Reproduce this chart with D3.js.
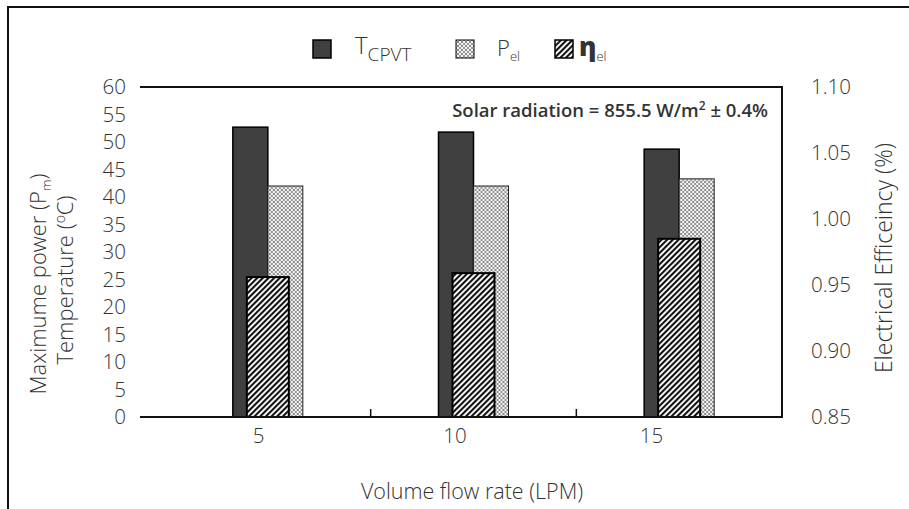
<!DOCTYPE html>
<html>
<head>
<meta charset="utf-8">
<script src="https://cdn.jsdelivr.net/npm/d3@7"></script>
<style>
  body { margin: 0; background: #fff; }
  text { font-family: "Open Sans", "Noto Sans", sans-serif; font-weight: 300; fill: #333; }
</style>
</head>
<body>
<svg id="chart" width="909" height="509"></svg>
<script>
// data
const flowRates = ['5', '10', '15'];
const tempCPVT = [52.7, 51.8, 48.7];
const powerEl = [42.0, 42.0, 43.3];
const effEl = [0.956, 0.959, 0.985];
const leftTicks = [0, 5, 10, 15, 20, 25, 30, 35, 40, 45, 50, 55, 60];
const rightTicks = [0.85, 0.90, 0.95, 1.00, 1.05, 1.10];

const svg = d3.select('#chart');
const plot = {left: 165, right: 782, top: 87, bottom: 417, lineStart: 140};

// patterns
let defs = svg.append('defs');
let dots = defs.append('pattern')
    .attr('id', 'pDots').attr('patternUnits', 'userSpaceOnUse')
    .attr('width', 4).attr('height', 4);
dots.append('rect').attr('width', 4).attr('height', 4).attr('fill', '#f2f2f2');
dots.append('path').attr('d', 'M0,0 L4,4 M4,0 L0,4').attr('stroke', '#999').attr('stroke-width', 1);
dots.append('rect').attr('x', 1.5).attr('y', 1.5).attr('width', 1).attr('height', 1).attr('fill', '#666');

let stripes = defs.append('pattern')
    .attr('id', 'pStripes').attr('patternUnits', 'userSpaceOnUse')
    .attr('width', 4).attr('height', 4)
    .attr('patternTransform', 'rotate(45)');
stripes.append('rect').attr('width', 4).attr('height', 4).attr('fill', '#fff');
stripes.append('rect').attr('width', 2.1).attr('height', 4).attr('fill', '#111');

// outer frame
svg.append('path')
    .attr('d', 'M8,509 V7 H909')
    .attr('fill', 'none').attr('stroke', '#111').attr('stroke-width', 2);

// scales
let x = d3.scaleBand().domain(flowRates).range([plot.left, plot.right]);
let xLabel = d3.scalePoint().domain(flowRates).range([258, 651]);
let y = d3.scaleLinear().domain([0, 60]).range([plot.bottom, plot.top]);
let y2 = d3.scaleLinear().domain([0.85, 1.10]).range([plot.bottom, plot.top]);
let inner = d3.scaleBand().domain(['T', 'P']).range([-35, 35]);
const etaW = 42;

// bars
let groups = svg.append('g').selectAll('g')
    .data(flowRates)
    .join('g')
    .attr('transform', d => `translate(${x(d) + x.bandwidth() / 2},0)`);

groups.append('rect')
    .attr('x', inner('T'))
    .attr('y', (d, i) => y(tempCPVT[i]))
    .attr('width', inner.bandwidth())
    .attr('height', (d, i) => y(0) - y(tempCPVT[i]))
    .attr('fill', '#404040').attr('stroke', '#000').attr('stroke-width', 1.5);

groups.append('rect')
    .attr('x', inner('P'))
    .attr('y', (d, i) => y(powerEl[i]))
    .attr('width', inner.bandwidth())
    .attr('height', (d, i) => y(0) - y(powerEl[i]))
    .attr('fill', 'url(#pDots)').attr('stroke', '#222').attr('stroke-width', 1);

groups.append('rect')
    .attr('x', -etaW / 2)
    .attr('y', (d, i) => y2(effEl[i]))
    .attr('width', etaW)
    .attr('height', (d, i) => y2(0.85) - y2(effEl[i]))
    .attr('fill', 'url(#pStripes)').attr('stroke', '#000').attr('stroke-width', 2);

// plot border (top, right, bottom)
svg.append('path')
    .attr('d', `M${plot.lineStart},${plot.top} H${plot.right} V${plot.bottom} H${plot.lineStart}`)
    .attr('fill', 'none').attr('stroke', '#111').attr('stroke-width', 2);

// category separators
svg.append('g').selectAll('line')
    .data(flowRates.slice(1))
    .join('line')
    .attr('x1', d => x(d)).attr('x2', d => x(d))
    .attr('y1', plot.bottom).attr('y2', plot.bottom - 8)
    .attr('stroke', '#111').attr('stroke-width', 1.5);

// axes
let leftAxis = d3.axisLeft(y).tickValues(leftTicks).tickSize(0).tickPadding(0);
let gl = svg.append('g').attr('transform', 'translate(126,0)').call(leftAxis);
gl.select('.domain').remove();
gl.selectAll('text').style('font-size', '20.5px').attr('fill', '#333');

let rightAxis = d3.axisRight(y2).tickValues(rightTicks).tickSize(0).tickPadding(0)
    .tickFormat(d3.format('.2f'));
let gr = svg.append('g').attr('transform', 'translate(811,0)').call(rightAxis);
gr.select('.domain').remove();
gr.selectAll('text').style('font-size', '20.5px').attr('fill', '#333');

let bottomAxis = d3.axisBottom(xLabel).tickSize(0).tickPadding(0);
let gb = svg.append('g').attr('transform', `translate(0,${plot.bottom + 11})`).call(bottomAxis);
gb.select('.domain').remove();
gb.selectAll('text').style('font-size', '20.5px').attr('fill', '#333');

// axis titles
svg.append('text')
    .attr('transform', 'translate(472,499)')
    .attr('text-anchor', 'middle').style('font-size', '21.5px')
    .text('Volume flow rate (LPM)');

let t1 = svg.append('text')
    .attr('transform', 'translate(46,284) rotate(-90)')
    .attr('text-anchor', 'middle').style('font-size', '22px');
t1.append('tspan').text('Maximume power (P');
t1.append('tspan').attr('dy', 5).style('font-size', '13px').text('m');
t1.append('tspan').attr('dy', -5).text(')');

let t2 = svg.append('text')
    .attr('transform', 'translate(73,280) rotate(-90)')
    .attr('text-anchor', 'middle').style('font-size', '22px');
t2.append('tspan').text('Temperature  (');
t2.append('tspan').attr('dy', -8).style('font-size', '14px').text('o');
t2.append('tspan').attr('dy', 8).text('C)');

svg.append('text')
    .attr('transform', 'translate(892,258) rotate(-90)')
    .attr('text-anchor', 'middle').style('font-size', '23px')
    .text('Electrical Efficeincy (%)');

// annotation
let ann = svg.append('text')
    .attr('x', 768).attr('y', 117)
    .attr('text-anchor', 'end')
    .style('font-size', '18.5px').style('font-weight', 600).attr('fill', '#111');
ann.append('tspan').text('Solar radiation = 855.5 W/m');
ann.append('tspan').attr('dy', -7).style('font-size', '12px').text('2');
ann.append('tspan').attr('dy', 7).text(' \u00b1 0.4%');

// legend
const legendItems = [
    {fill: '#404040', sw: 1.5, x: 313},
    {fill: 'url(#pDots)', sw: 1, x: 456},
    {fill: 'url(#pStripes)', sw: 1.5, x: 555}
];
svg.append('g').selectAll('rect')
    .data(legendItems)
    .join('rect')
    .attr('x', d => d.x).attr('y', 40)
    .attr('width', 18).attr('height', 18)
    .attr('fill', d => d.fill).attr('stroke', '#000').attr('stroke-width', d => d.sw);

let l1 = svg.append('text').attr('x', 355).attr('y', 54).style('font-size', '24px');
l1.append('tspan').text('T');
l1.append('tspan').attr('dy', 7).style('font-size', '19px').text('CPVT');

let l2 = svg.append('text').attr('x', 497).attr('y', 56).style('font-size', '22px');
l2.append('tspan').text('P');
l2.append('tspan').attr('dy', 5).style('font-size', '13px').text('el');

let l3 = svg.append('text').attr('x', 579).attr('y', 56).style('font-size', '26px')
    .style('font-weight', 800).attr('fill', '#111');
l3.append('tspan').text('\u03b7');
l3.append('tspan').attr('dy', 5).style('font-size', '13px').style('font-weight', 300).attr('fill', '#333').text('el');
</script>
</body>
</html>
